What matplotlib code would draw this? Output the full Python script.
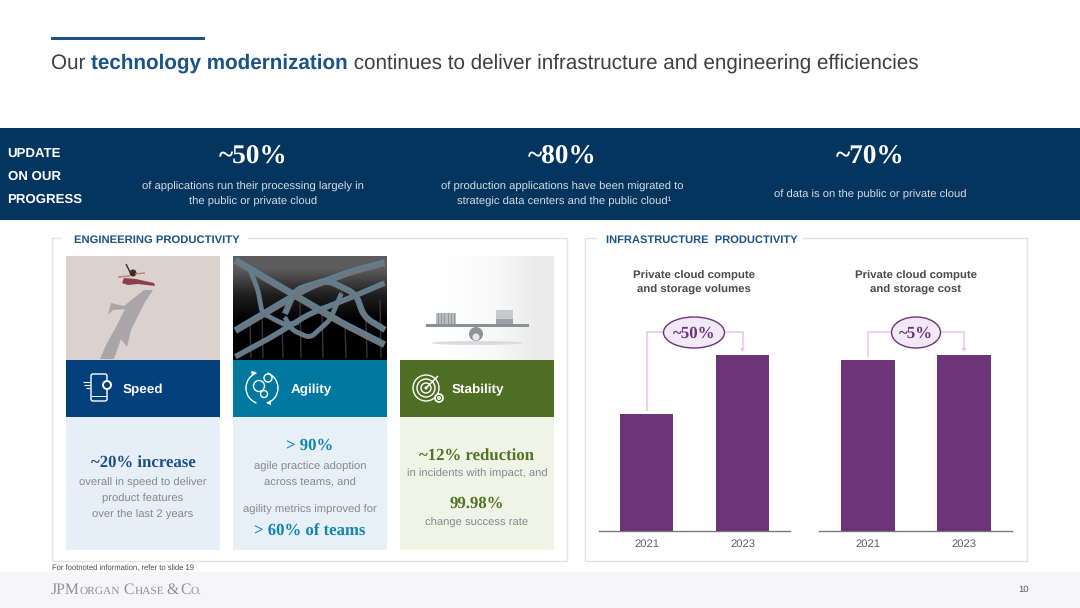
import numpy as np
import matplotlib
matplotlib.use("Agg")
import matplotlib.pyplot as plt
from matplotlib.patches import Rectangle, Ellipse, Polygon, Circle, FancyBboxPatch, Arc

plt.rcParams["text.hinting"] = "none"
plt.rcParams["text.hinting_factor"] = 8

# ---- data ----
years = ["2021", "2023"]
volumes = [66.5, 100]
costs = [97, 100]
chart_titles = ["Private cloud compute\nand storage volumes", "Private cloud compute\nand storage cost"]
change_labels = ["~50%", "~5%"]

SANS = "Liberation Sans"
SERIF = "Liberation Serif"
NAVY = "#04355f"
PURPLE = "#6b3578"
GREY = "#5d5f66"
BODY_SIZE = 8.1

fig = plt.figure(figsize=(10.8, 6.08), dpi=100, facecolor="white")
bg = fig.add_axes([0, 0, 1, 1], zorder=0)
bg.set_xlim(0, 1080); bg.set_ylim(608, 0); bg.axis("off")

def rect(x0, y0, x1, y1, **kw):
    kw.setdefault("lw", 0)
    r = Rectangle((x0, y0), x1 - x0, y1 - y0, **kw)
    bg.add_patch(r)
    return r

def txt(x, y, s, size=8, color=GREY, ha="center", va="center", family=SANS, weight="normal", **kw):
    return bg.text(x, y + 1.8, s, fontsize=size, color=color, ha=ha, va=va, family=family, weight=weight, **kw)

def line(xs, ys, color="white", lw=1.0, **kw):
    bg.plot(xs, ys, color=color, lw=lw, solid_capstyle="butt", **kw)

def smooth(pts, n=200, k=25):
    pts = np.array(pts, float)
    d = np.r_[0, np.cumsum(np.hypot(*np.diff(pts, axis=0).T))]
    t = np.linspace(0, d[-1], n)
    x_, y_ = np.interp(t, d, pts[:, 0]), np.interp(t, d, pts[:, 1])
    pad = lambda a: np.r_[np.full(k, a[0]), a, np.full(k, a[-1])]
    ker = np.ones(k) / k
    return (np.convolve(pad(x_), ker, "same")[k:-k], np.convolve(pad(y_), ker, "same")[k:-k])

# ---- title ----
rect(51, 37, 205, 40, fc="#1c5386")
renderer = fig.canvas.get_renderer()
x = 51.0
TS = 14.89
for s, w, c in [("Our ", "normal", "#3d3f46"), ("technology modernization", "bold", "#1c5386"),
                (" continues to deliver infrastructure and engineering efficiencies", "normal", "#3d3f46")]:
    t = txt(x, 61.5, s, size=TS, color=c, ha="left", weight=w)
    probe = txt(0, 0, s.replace(" ", "\u00a0"), size=TS, weight=w, ha="left")
    x += probe.get_window_extent(renderer).width
    probe.remove()

# ---- banner ----
rect(0, 128, 1080, 220, fc=NAVY)
for y, s in zip([152.5, 175, 197.5], ["UPDATE", "ON OUR", "PROGRESS"]):
    txt(7.5, y, s, size=9.5, color="white", ha="left", weight="bold")
for cx, big, y1, l1, y2, l2 in [
    (253, "~50%", 185.5, "of applications run their processing largely in", 200.5, "the public or private cloud"),
    (562, "~80%", 185.5, "of production applications have been migrated to", 200.5, "strategic data centers and the public cloud\u00b9"),
    (870, "~70%", 193, "of data is on the public or private cloud", None, None)]:
    txt(cx, 155, big, size=19.6, color="white", family=SERIF, weight="bold")
    txt(cx, y1, l1, size=BODY_SIZE, color="#d8dde4")
    if l2:
        txt(cx + (2 if cx == 562 else 0), y2, l2, size=BODY_SIZE, color="#d8dde4")

# ---- panel frames ----
for x0, x1 in [(52, 567), (585, 1027)]:
    rect(x0, 238, x1, 561, fc="white", ec="#e2e2ea", lw=1)
rect(62, 232, 248, 245, fc="white")
rect(597, 232, 803, 245, fc="white")
txt(74, 238.7, "ENGINEERING PRODUCTIVITY", size=8.15, color="#1c5386", ha="left", weight="bold")
txt(606, 238.7, "INFRASTRUCTURE  PRODUCTIVITY", size=7.97, color="#1c5386", ha="left", weight="bold")

# ---- cards ----
cols = [(66, 220, "#04407b", "#e6eef8"), (233, 387, "#00789f", "#e6f0f6"), (400, 554, "#4f6e23", "#eff4e6")]
for x0, x1, dark, light in cols:
    rect(x0, 360, x1, 417, fc=dark)
    rect(x0, 417, x1, 550, fc=light)
for x_, s in [(123, "Speed"), (291, "Agility"), (452, "Stability")]:
    txt(x_, 388, s, size=9.7, color="white", ha="left", weight="bold")

# photo 1: runner and shadow
rect(66, 256, 220, 360, fc="#dcd2cd")
bg.add_patch(Polygon([(100, 359), (106, 345), (116, 327), (125, 309), (113, 310), (108, 315), (111, 303),
                      (124, 306), (144, 290), (153, 290), (145, 302), (131, 330), (127, 347), (121, 339),
                      (114, 359)], fc="#a9a5a8", lw=0))
bg.add_patch(Polygon([(124, 278), (136, 279), (154, 283), (155, 286), (138, 284), (128, 285), (122, 283)],
                     fc="#8c3f4a", lw=0))
bg.add_patch(Circle((133, 273), 3.5, fc="#3d2a26", lw=0))
line([126, 130], [264, 272], color="#3d2a26", lw=1.0)
line([118, 130], [277, 276], color="#b98a70", lw=1.2)
line([135, 145], [274, 273], color="#b98a70", lw=1.0)

# photo 2: interchange
bg.imshow(np.array([[0.36], [0.12], [0.0], [0.0]]), extent=(233, 387, 360, 256), cmap="gray", vmin=0, vmax=1,
          aspect="auto", zorder=1, interpolation="bilinear")
road = dict(solid_capstyle="butt", zorder=2)
for xs_, ys_ in [(250, 325), (262, 315), (282, 320), (300, 300), (322, 305), (345, 325), (366, 320), (380, 300)]:
    line([xs_, xs_ + 1], [ys_, 358], color="#2f373d", lw=1.0, zorder=2)
paths = [([(233, 259), (262, 276), (291, 293), (340, 322), (387, 346)], 5),
         ([(233, 332), (270, 310), (309, 287), (350, 272), (387, 262)], 5),
         ([(233, 358), (270, 338), (309, 314), (345, 300), (387, 282)], 4),
         ([(250, 270), (258, 290), (262, 313), (285, 325), (300, 322)], 3.5),
         ([(284, 316), (295, 290), (327, 280), (356, 294), (364, 317), (387, 331)], 4.5),
         ([(284, 316), (292, 330), (310, 338), (330, 320), (342, 292)], 3.5)]
for pts, w in paths:
    c_x, c_y = smooth(pts)
    bg.plot(c_x, c_y, color="#6c7780", lw=w, **road)
    bg.plot(c_x, c_y - w * 0.45, color="#3f8fb8", lw=0.6, **road)

# photo 3: balance
bg.imshow(np.array([[1.0, 0.99, 0.97, 0.92]]), extent=(400, 554, 360, 256), cmap="gray", vmin=0, vmax=1,
          aspect="auto", zorder=1, interpolation="bilinear")
bg.add_patch(Ellipse((477, 343), 92, 4, fc="#d9dbe0", lw=0, zorder=2))
bg.add_patch(Circle((476, 334), 7, fc="#8f9398", lw=0, zorder=2))
bg.add_patch(Circle((476, 337), 3.5, fc="#e8e8ea", lw=0, zorder=2))
rect(426, 324, 529, 327, fc="#8a9096", zorder=3)
rect(436, 313, 456, 324, fc="#b9bcc0", zorder=3)
for xx in np.linspace(438, 454, 6):
    line([xx, xx], [313, 324], color="#8c9095", lw=0.6, zorder=4)
rect(496, 310, 513, 324, fc="#c7c9cc", zorder=3)
rect(496, 319, 513, 324, fc="#9da1a6", zorder=3)

# icons (simple white line drawings)
W = dict(fc="none", ec="white", lw=1.0)
bg.add_patch(FancyBboxPatch((91, 374), 16, 27, boxstyle="round,pad=0,rounding_size=2", **W))
bg.add_patch(Circle((107, 385), 4, fc="#04407b", ec="white", lw=1.4))
for yy, x0_ in [(382, 83), (385, 84), (388, 86)]:
    line([x0_, 90], [yy, yy], lw=0.8)
line([91, 107], [396, 396], lw=0.7)

bg.add_patch(Arc((262, 388), 32, 32, theta1=-70, theta2=70, **W))
bg.add_patch(Arc((262, 388), 32, 32, theta1=110, theta2=250, **W))
bg.add_patch(Circle((259, 386), 5.5, **W))
bg.add_patch(Circle((268, 378), 4, **W))
bg.add_patch(Circle((264, 394), 3.5, **W))
bg.add_patch(Polygon([(251, 371), (256, 372), (252, 376)], fc="white", lw=0))
bg.add_patch(Polygon([(271, 405), (266, 403), (271, 400)], fc="white", lw=0))

for r_ in (13, 9, 5):
    bg.add_patch(Circle((426, 388), r_, **W))
bg.add_patch(Circle((426, 388), 1.5, fc="white", lw=0))
line([426, 438], [388, 376], lw=1.1)
bg.add_patch(Circle((439, 398), 4, fc="#4f6e23", ec="white", lw=1.2))
bg.add_patch(Circle((439, 398), 1.3, **W))

# ---- card text ----
BLUE_T, TEAL_T, GREEN_T = "#1c4f86", "#1286ab", "#4f7424"
BODY = "#85878f"
HS = 12.1
txt(143, 461.5, "~20% increase", size=HS, color=BLUE_T, family=SERIF, weight="bold")
for y, s in zip([481, 497, 513.5], ["overall in speed to deliver", "product features", "over the last 2 years"]):
    txt(143, y, s, size=BODY_SIZE, color=BODY)
txt(310, 444, "> 90%", size=HS, color=TEAL_T, family=SERIF, weight="bold")
for y, s in zip([465, 481, 508.5], ["agile practice adoption", "across teams, and", "agility metrics improved for"]):
    txt(310, y, s, size=BODY_SIZE, color=BODY)
txt(310, 529.5, "> 60% of teams", size=HS, color=TEAL_T, family=SERIF, weight="bold")
txt(477, 454.5, "~12% reduction", size=HS, color=GREEN_T, family=SERIF, weight="bold")
txt(477, 472.5, "in incidents with impact, and", size=BODY_SIZE, color=BODY)
txt(477, 501.5, "99.98%", size=HS, color=GREEN_T, family=SERIF, weight="bold")
txt(477, 521, "change success rate", size=BODY_SIZE, color=BODY)

# ---- footer ----
txt(52, 565.8, "For footnoted information, refer to slide 19", size=5.47, color="#4c4c52", ha="left")
rect(0, 572, 1080, 608, fc="#f6f6f9")
x = 51.0
LOGO = "#8e9096"
for s, sz in [("JPM", 11.3), ("ORGAN", 8.2), ("\u00a0C", 11.3), ("HASE", 8.2), ("\u00a0", 5.0), ("&", 11.3), ("\u00a0", 5.0), ("C", 11.3), ("O.", 8.2)]:
    t = bg.text(x, 594, s, fontsize=sz, color=LOGO, ha="left", va="baseline", family=SERIF)
    x += t.get_window_extent(renderer).width
txt(1024, 587.5, "10", size=6.8, color="#55575d")

# ---- bar charts ----
def px_axes(x0, x1, top, base=531):
    return fig.add_axes([x0 / 1080, (608 - base) / 608, (x1 - x0) / 1080, (base - top) / 608], zorder=2, facecolor="none")

specs = [
    (599, 790, 646.5, volumes, chart_titles[0], 694, change_labels[0], 694, 61),
    (819, 1012, 868, costs, chart_titles[1], 916, change_labels[1], 916, 49),
]
for x0, x1, c0, vals, title, tx, lab, ex, ew in specs:
    ax = px_axes(x0, x1, 355)
    spacing = 96.0
    ax.set_xlim(-(c0 - x0) / spacing, (x1 - c0) / spacing)
    ax.set_ylim(0, 100)
    ax.bar([0, 1], vals, width=0.555, color=PURPLE, zorder=3)
    ax.set_xticks([0, 1], years, family=SANS, fontsize=BODY_SIZE, color=GREY)
    ax.set_yticks([])
    ax.tick_params(axis="x", length=0, pad=5.8)
    for sp in ("top", "left", "right"):
        ax.spines[sp].set_visible(False)
    ax.spines["bottom"].set_color("#77777f")
    ax.spines["bottom"].set_linewidth(1.0)

    txt(tx, 281.3, title, size=8.17, color="#47494f", weight="bold", linespacing=1.42)
    bar_top0 = 531 - vals[0] * 1.76
    c1 = c0 + spacing
    line([c0, c0, ex], [bar_top0 - 3, 332, 332], color="#e9c3ee", lw=1.1)
    line([ex, c1, c1], [332, 332, 350], color="#e9c3ee", lw=1.1)
    bg.add_patch(Polygon([(c1 - 2.5, 348), (c1 + 2.5, 348), (c1, 352)], fc="#e9c3ee", lw=0))
    bg.add_patch(Ellipse((ex, 332.5), ew, 31, fc="#f3e8f6", ec=PURPLE, lw=1.0, zorder=3))
    txt(ex, 332, lab, size=12.2, color=PURPLE, family=SERIF, weight="bold", zorder=4)

bg.set_xlim(0, 1080); bg.set_ylim(608, 0)
fig.savefig("out.png", dpi=100, facecolor="white")
